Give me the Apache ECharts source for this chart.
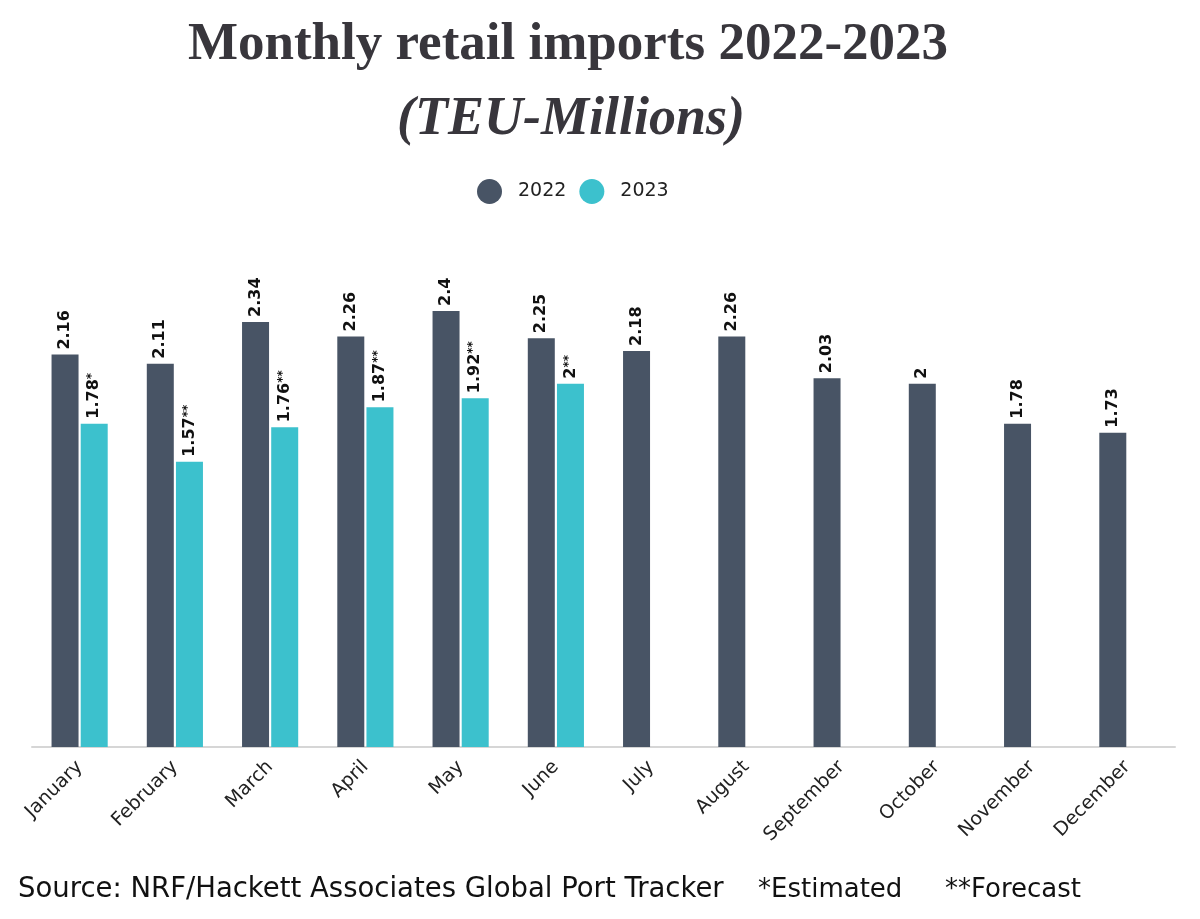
<!DOCTYPE html>
<html><head><meta charset="utf-8">
<script src="https://cdn.jsdelivr.net/npm/echarts@6/dist/echarts.min.js"></script>
<style>html,body{margin:0;padding:0;background:#fff}#c{width:1200px;height:919px}</style>
</head><body><div id="c"></div>
<script>
const months = ['January','February','March','April','May','June','July','August','September','October','November','December'];
const values2022 = [2.16,2.11,2.34,2.26,2.4,2.25,2.18,2.26,2.03,2,1.78,1.73];
const values2023 = [1.78,1.57,1.76,1.87,1.92,2,null,null,null,null,null,null];
const marks2023 = ['*','**','**','**','**','**','','','','','',''];
const seriesNames = ['2022','2023'];

const chart = echarts.init(document.getElementById('c'));
const labelBase = {
  show: true, position: 'top', rotate: 90, align: 'left', verticalAlign: 'middle',
  distance: 5, color: '#111', fontFamily: 'DejaVu Sans', fontWeight: 'bold', fontSize: 16
};
chart.setOption({
  animation: false,
  title: [
    {text: 'Monthly retail imports 2022-2023', left: 563, top: 14, textAlign: 'center',
     textStyle: {fontFamily: 'Liberation Serif', fontWeight: 'bold', fontSize: 53, color: '#38363c'}},
    {text: '(TEU-Millions)', left: 566, top: 88, textAlign: 'center',
     textStyle: {fontFamily: 'Liberation Serif', fontWeight: 'bold', fontStyle: 'italic', fontSize: 54, color: '#38363c'}}
  ],
  legend: {
    data: seriesNames, left: 472, top: 174, icon: 'circle', itemWidth: 25, itemHeight: 25, itemGap: 13,
    textStyle: {fontFamily: 'DejaVu Sans', fontSize: 19, color: '#222', padding: [0, 0, 0, 11]}
  },
  grid: {left: 32, right: 25, top: 311, bottom: 172, containLabel: false},
  xAxis: {
    type: 'category', data: months,
    axisLine: {lineStyle: {color: '#d6d6d6', width: 2}},
    axisTick: {show: false},
    axisLabel: {rotate: 45, fontFamily: 'DejaVu Sans', fontSize: 19, color: '#222', margin: 17}
  },
  yAxis: {type: 'value', min: 0, max: 2.4, show: false, splitLine: {show: false}},
  series: [
    {name: seriesNames[0], type: 'bar', data: values2022, barWidth: 27, barGap: '8%',
     itemStyle: {color: '#485465'},
     label: Object.assign({}, labelBase, {formatter: p => String(p.value)})},
    {name: seriesNames[1], type: 'bar', data: values2023, barWidth: 27,
     itemStyle: {color: '#3cc1cd'},
     label: Object.assign({}, labelBase, {
       formatter: p => '{v|' + p.value + '}{s|' + marks2023[p.dataIndex] + '}',
       rich: {v: {fontFamily: 'DejaVu Sans', fontWeight: 'bold', fontSize: 16, color: '#111'},
              s: {fontFamily: 'DejaVu Sans', fontWeight: 'bold', fontSize: 12, color: '#111', verticalAlign: 'top'}}
     })}
  ],
  graphic: [
    {type: 'text', left: 18, top: 876, style: {text: 'Source: NRF/Hackett Associates Global Port Tracker', fontFamily: 'DejaVu Sans', fontSize: 27.5, fill: '#111'}},
    {type: 'text', left: 758, top: 877, style: {text: '*Estimated', fontFamily: 'DejaVu Sans', fontSize: 26, fill: '#111'}},
    {type: 'text', left: 945, top: 877, style: {text: '**Forecast', fontFamily: 'DejaVu Sans', fontSize: 26, fill: '#111'}}
  ]
});
</script></body></html>
